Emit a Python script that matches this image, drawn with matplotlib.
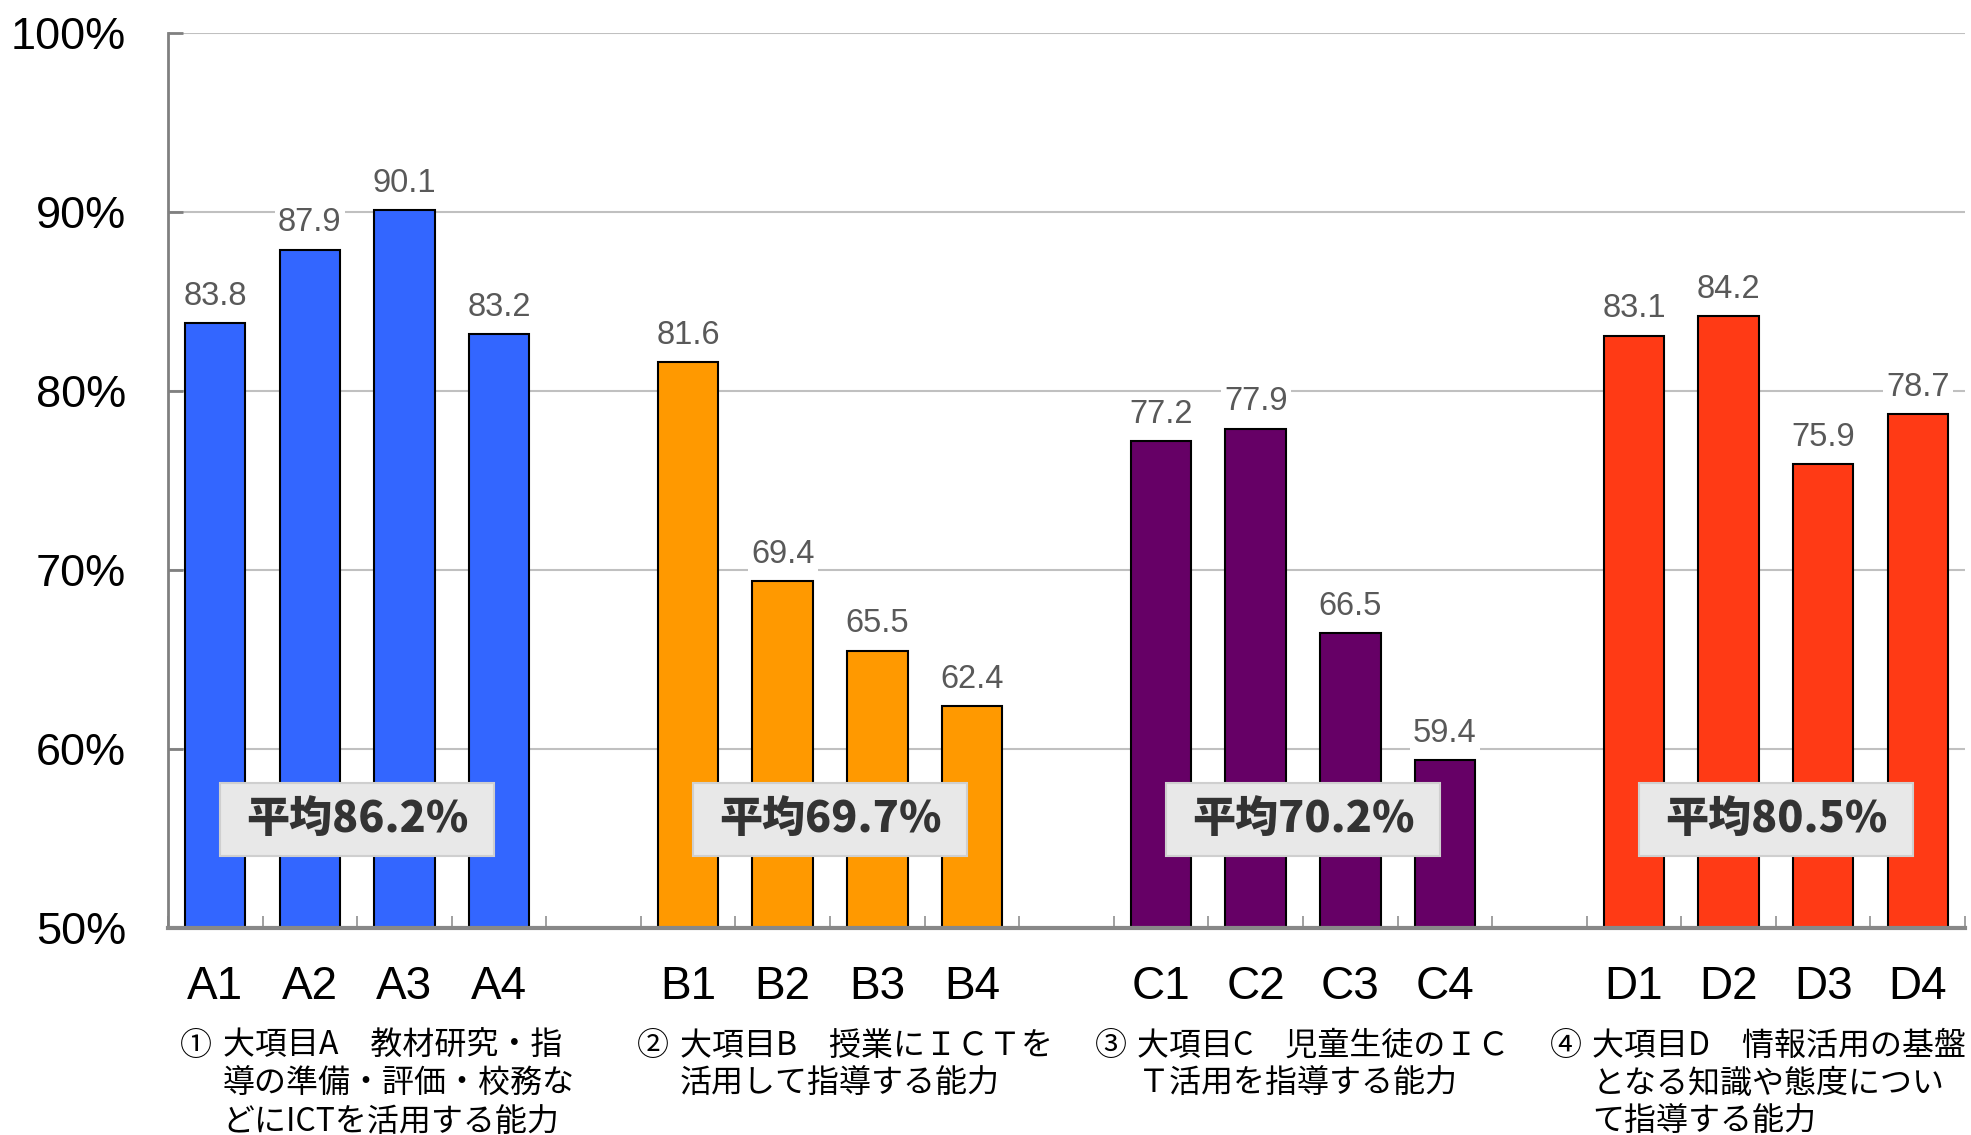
import matplotlib
matplotlib.use("Agg")
import matplotlib.pyplot as plt
import matplotlib.ticker as mticker
import matplotlib.patches as mpatches

# データ
GRUPOS = ["A", "B", "C", "D"]
CODIGOS = [
    ["A1", "A2", "A3", "A4"],
    ["B1", "B2", "B3", "B4"],
    ["C1", "C2", "C3", "C4"],
    ["D1", "D2", "D3", "D4"],
]
VALORES = [
    [83.8, 87.9, 90.1, 83.2],
    [81.6, 69.4, 65.5, 62.4],
    [77.2, 77.9, 66.5, 59.4],
    [83.1, 84.2, 75.9, 78.7],
]
MEDIAS = [86.2, 69.7, 70.2, 80.5]
NUMEROS = ["①", "②", "③", "④"]
DESCRICOES = [
    "大項目A　教材研究・指\n導の準備・評価・校務な\nどにICTを活用する能力",
    "大項目B　授業にＩＣＴを\n活用して指導する能力",
    "大項目C　児童生徒のＩＣ\nＴ活用を指導する能力",
    "大項目D　情報活用の基盤\nとなる知識や態度につい\nて指導する能力",
]

CORES = ["#3366FF", "#FF9900", "#660066", "#FF3A15"]
# posição do texto descritivo (em unidades do eixo x)
DESC_X = [-0.37, 4.46, 9.30, 14.11]

LATIN = ["Liberation Sans", "DejaVu Sans"]
JP = ["Noto Sans CJK JP", "DejaVu Sans"]

fig = plt.figure(figsize=(19.71, 11.35), dpi=100)
ax = fig.add_axes([0.0852, 0.1824, 0.9118, 0.7885])

xs_centro = []
rotulos = []
for g, (cods, vals, cor) in enumerate(zip(CODIGOS, VALORES, CORES)):
    xs = [g * 5 + j for j in range(len(vals))]
    ax.bar(xs, vals, width=0.64, color=cor, edgecolor="black", linewidth=1.5, zorder=2)
    for x, v in zip(xs, vals):
        ax.annotate(f"{v:.1f}", xy=(x, v), xytext=(0, 8), textcoords="offset points",
                    ha="center", va="bottom", fontsize=23.5, color="#595959",
                    family=LATIN, zorder=3,
                    bbox=dict(boxstyle="square,pad=0.1", facecolor="white", edgecolor="none"))
    xs_centro += xs
    rotulos += cods
    # caixa de média
    cx = g * 5 + 1.5
    ax.add_patch(mpatches.Rectangle((cx - 1.45, 56.05 - 2.04), 2.9, 4.08,
                                    facecolor="#E8E8E8", edgecolor="#CFCFCF",
                                    linewidth=1.5, zorder=5))
    ax.text(cx, 56.05, f"平均{MEDIAS[g]:.1f}%", ha="center", va="center",
            fontsize=31, fontweight="heavy", color="#333333", family=JP, zorder=6)
    # descrição do grupo
    ax.text(DESC_X[g], -0.114, NUMEROS[g], transform=ax.get_xaxis_transform(),
            ha="left", va="top", fontsize=23, family=JP, color="black")
    ax.text(DESC_X[g] + 0.45, -0.114, DESCRICOES[g], transform=ax.get_xaxis_transform(),
            ha="left", va="top", fontsize=23, family=JP, color="black", linespacing=1.24)

ax.set_xlim(-0.5, 18.5)
ax.set_ylim(50, 100)
ax.set_xticks(xs_centro)
ax.set_xticklabels(rotulos, fontsize=33, family=LATIN)
ax.set_xticks([i - 0.5 for i in range(20)], minor=True)
ax.tick_params(axis="x", which="major", length=0, pad=27)
ax.tick_params(axis="x", which="minor", direction="in", length=9, width=1.2, color="#909090")

ax.set_yticks(range(50, 101, 10))
ax.yaxis.set_major_formatter(mticker.FuncFormatter(lambda v, _: f"{v:.0f}%"))
ax.tick_params(axis="y", direction="in", length=11, width=2, color="#808080", pad=30)
for lbl in ax.get_yticklabels():
    lbl.set_fontsize(32.5)
    lbl.set_family(LATIN)

ax.grid(axis="y", color="#C0C0C0", linewidth=1.5)
ax.set_axisbelow(True)
ax.spines["top"].set_visible(False)
ax.spines["right"].set_visible(False)
ax.spines["left"].set_color("#808080")
ax.spines["left"].set_linewidth(2)
ax.spines["bottom"].set_color("#888888")
ax.spines["bottom"].set_linewidth(3)
ax.spines["bottom"].set_zorder(4)

fig.savefig("out.png", dpi=100, facecolor="white")
